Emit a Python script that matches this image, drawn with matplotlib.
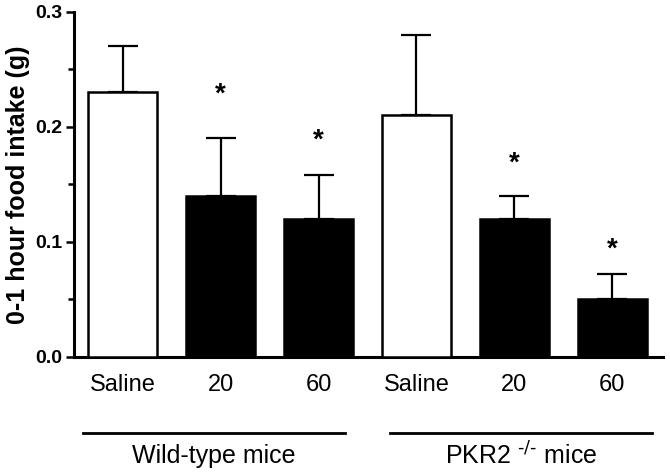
import numpy as np
import matplotlib.pyplot as plt

plt.rcParams['font.family'] = ['Liberation Sans', 'DejaVu Sans']

# data
labels = ['Saline', '20', '60', 'Saline', '20', '60']
means = [0.23, 0.14, 0.12, 0.21, 0.12, 0.05]
sem = [0.04, 0.05, 0.038, 0.07, 0.02, 0.022]
colors = ['white', 'black', 'black', 'white', 'black', 'black']
star_bars = [1, 2, 4, 5]
star_y = [0.228, 0.188, 0.168, 0.093]
groups = ['Wild-type mice', 'PKR2 $^{\\text{-/-}}$ mice']

fig = plt.figure(figsize=(6.7, 4.74), dpi=100)
ax = fig.add_axes([0.110, 0.247, 0.880, 0.728])

x = np.arange(len(means))
ax.bar(x, means, width=0.7, color=colors, edgecolor='black', linewidth=1.8, zorder=3)
ax.errorbar(x, means, yerr=[np.zeros(len(sem)), sem], fmt='none', ecolor='black',
            elinewidth=1.6, capsize=11, capthick=1.6, zorder=2)

for i, yy in zip(star_bars, star_y):
    ax.text(x[i], yy, '*', ha='center', va='center', fontsize=20, fontweight='bold')

ax.set_xlim(-0.5, 5.52)
ax.set_ylim(0, 0.3)
ax.set_yticks([0.0, 0.1, 0.2, 0.3])
ax.set_yticks([0.05, 0.15, 0.25], minor=True)
ax.set_yticklabels(['0.0', '0.1', '0.2', '0.3'], fontsize=14, fontweight='bold')
ax.tick_params(axis='y', which='major', length=6, width=1.8, direction='out', pad=2)
ax.tick_params(axis='y', which='minor', length=4, width=1.8, direction='out')
ax.set_xticks(x)
ax.set_xticklabels(labels, fontsize=17)
ax.tick_params(axis='x', length=0, pad=12)
ax.spines['top'].set_visible(False)
ax.spines['right'].set_visible(False)
ax.spines['left'].set_linewidth(2.2)
ax.spines['bottom'].set_linewidth(2.2)
ax.set_ylabel('0-1 hour food intake (g)', fontsize=18, fontweight='bold', labelpad=4)

# group lines and labels
for (x0, x1), name in zip([(-0.4, 2.27), (2.73, 5.4)], groups):
    ax.plot([x0, x1], [-0.066, -0.066], color='black', lw=2, clip_on=False,
            transform=ax.transData)
    ax.text((x0 + x1) / 2, -0.086, name, ha='center', va='center', fontsize=18)

fig.savefig('out.png', dpi=100)
